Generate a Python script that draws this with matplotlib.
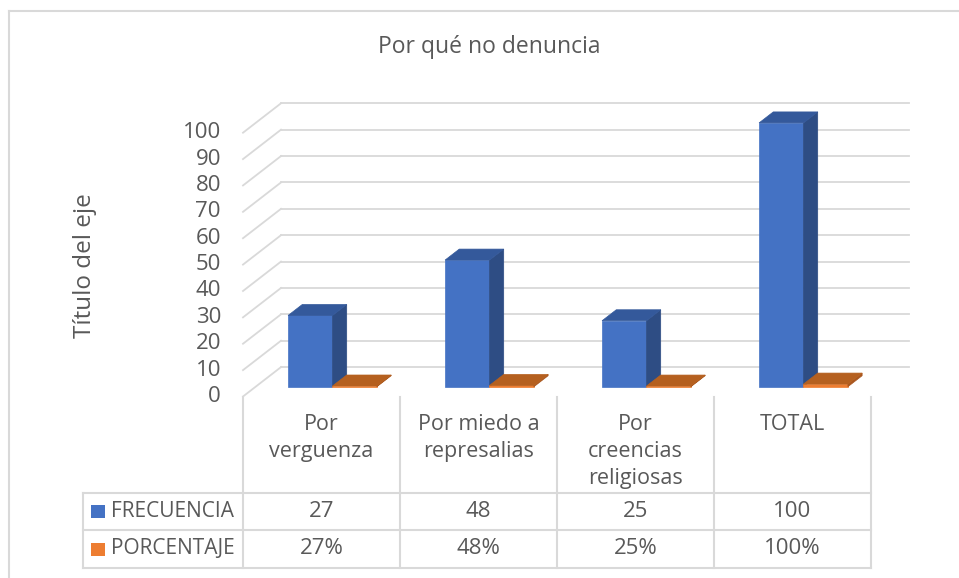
"""
Por qué no denuncia - 3D style column chart with data table.
"""

import matplotlib.pyplot as plt
from matplotlib.patches import Polygon, Rectangle
from matplotlib.transforms import offset_copy

categories = ["Por\nverguenza", "Por miedo a\nrepresalias", "Por\ncreencias\nreligiosas", "TOTAL"]
series_names = ["FRECUENCIA", "PORCENTAJE"]
frecuencia = [27, 48, 25, 100]
porcentaje = [0.27, 0.48, 0.25, 1.00]
yticks = list(range(0, 101, 10))

W, H = 959, 578
TEXT = "#595959"
GRID = "#D9D9D9"
FS = 15.5

plt.rcParams["font.family"] = ["Open Sans", "DejaVu Sans"]

fig = plt.figure(figsize=(W / 100, H / 100), dpi=100)


def px(x, y):
    return x / W, 1 - y / H


# plotting region = front plane of the 3D box
left, right, top, bottom = 243, 871, 132.7, 396.5
ax = fig.add_axes([left / W, 1 - bottom / H, (right - left) / W, (bottom - top) / H])
ax.set_xlim(-0.5, len(categories) - 0.5)
ax.set_ylim(0, 100)
ax.axis("off")

# depth of the box in data units
ddx = 38 / ((right - left) / len(categories))
ddy = 29.4 / ((bottom - top) / 100)

x0, x1 = -0.5, len(categories) - 0.5
for v in yticks:
    ax.plot([x0 + ddx, x1 + ddx], [v + ddy, v + ddy], color=GRID, lw=1.3, clip_on=False, zorder=1)
    ax.plot([x0, x0 + ddx], [v, v + ddy], color=GRID, lw=1.3, clip_on=False, zorder=1)

tick_tr = offset_copy(ax.transData, fig=fig, x=-22, y=0, units="dots")
for v in yticks:
    ax.text(x0, v, str(v), transform=tick_tr, ha="right", va="center", fontsize=16, color=TEXT)

# bars
f1, f2 = 0.333, 0.707
w = 0.283
base = f1 * ddy
bx = -0.5 + 0.287  # left of blue front face relative to category centre
dx_b, dy_b = (f2 - f1) * ddx, (f2 - f1) * ddy

styles = [
    ("#4472C4", "#2E4D84", "#34599B", 0),
    ("#ED7D31", "#A9561E", "#B5601F", 1),
]
for i in range(len(categories)):
    for (front, side, topc, k), val in zip(styles, [frecuencia[i], porcentaje[i]]):
        xa = i + bx + k * w
        xb = xa + w
        yt = base + val
        ax.add_patch(Polygon([(xa, base), (xb, base), (xb, yt), (xa, yt)],
                             closed=True, fc=front, ec=front, lw=0.5, clip_on=False, zorder=3))
        ax.add_patch(Polygon([(xb, base), (xb + dx_b, base + dy_b), (xb + dx_b, yt + dy_b), (xb, yt)],
                             closed=True, fc=side, ec=side, lw=0.5, clip_on=False, zorder=3))
        ax.add_patch(Polygon([(xa, yt), (xb, yt), (xb + dx_b, yt + dy_b), (xa + dx_b, yt + dy_b)],
                             closed=True, fc=topc, ec=topc, lw=0.5, clip_on=False, zorder=3))

# title and axis title
fig.text(*px(489, 47), "Por qué no denuncia", ha="center", va="center", fontsize=16.5, color=TEXT)
fig.text(*px(85, 266), "Título del eje", ha="center", va="center", rotation=90, fontsize=17.5, color=TEXT)

# outer chart border (top and left visible)
fig.add_artist(plt.Line2D([9 / W, 1], [1 - 11 / H, 1 - 11 / H], color=GRID, lw=1.5))
fig.add_artist(plt.Line2D([9 / W, 9 / W], [1 - 11 / H, 0], color=GRID, lw=1.5))

# data table
col_edges = [left + (right - left) * j / len(categories) for j in range(len(categories) + 1)]
row_edges = [493, 530, 568]
tbl_left = 83
for y in row_edges:
    fig.add_artist(plt.Line2D([tbl_left / W, right / W], [1 - y / H] * 2, color=GRID, lw=1.5))
fig.add_artist(plt.Line2D([tbl_left / W] * 2, [1 - row_edges[0] / H, 1 - row_edges[-1] / H], color=GRID, lw=1.5))
for xe in col_edges:
    fig.add_artist(plt.Line2D([xe / W] * 2, [1 - bottom / H, 1 - row_edges[-1] / H], color=GRID, lw=1.5))

for j, cat in enumerate(categories):
    cx = (col_edges[j] + col_edges[j + 1]) / 2
    fig.text(*px(cx, 414), cat, ha="center", va="top", fontsize=FS, color=TEXT, linespacing=1.38)

rows = [
    (series_names[0], "#4472C4", [str(v) for v in frecuencia]),
    (series_names[1], "#ED7D31", [f"{v:.0%}" for v in porcentaje]),
]
for r, (name, col, vals) in enumerate(rows):
    cy = (row_edges[r] + row_edges[r + 1]) / 2
    fig.add_artist(Rectangle(px(91, cy + 6.5), 14 / W, 13 / H, fc=col, ec="none"))
    fig.text(*px(111, cy), name, ha="left", va="center", fontsize=15, color=TEXT)
    for j, s in enumerate(vals):
        cx = (col_edges[j] + col_edges[j + 1]) / 2
        fig.text(*px(cx, cy), s, ha="center", va="center", fontsize=16, color=TEXT)

fig.savefig("out.png", dpi=100)
